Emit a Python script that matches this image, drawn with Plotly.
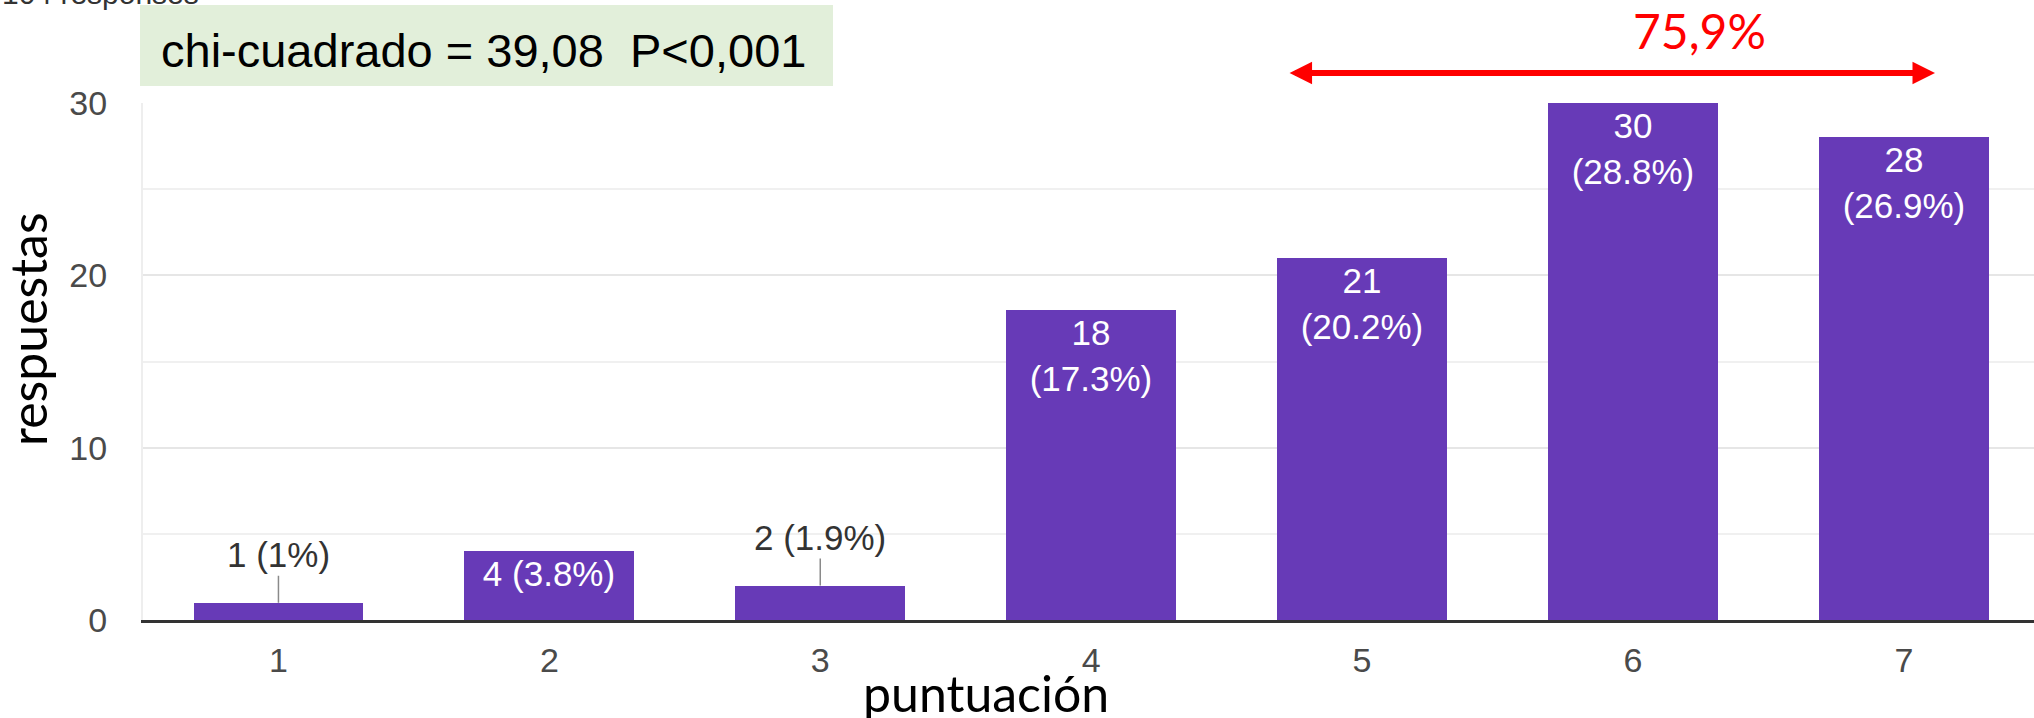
import plotly.graph_objects as go

# ---- data ----
categories = [1, 2, 3, 4, 5, 6, 7]
respuestas = [1, 4, 2, 18, 21, 30, 28]
porcentajes = [1, 3.8, 1.9, 17.3, 20.2, 28.8, 26.9]
y_ticks = [0, 10, 20, 30]
total_label = "104 responses"
chi_text = "chi-cuadrado = 39,08  P<0,001"
bracket_label = "75,9%"
bracket_from, bracket_to = 5, 7  # categories spanned by the red arrow

PURPLE = "#673ab7"
W, H = 2034, 718
L, R, T, B = 143, 0, 103, 98
plot_w = W - L - R
plot_h = H - T - B
x_range = [0.5, 0.5 + plot_w / 270.9]


def px_x(px):
    return (px - L) / plot_w


def px_y(py):
    return (H - B - py) / plot_h


texts, positions = [], []
for v, p in zip(respuestas, porcentajes):
    if v >= 10:
        texts.append(f"{v}<br>({p:g}%)")
        positions.append("inside")
    elif v >= 3:
        texts.append(f"{v} ({p:g}%)")
        positions.append("inside")
    else:
        texts.append("")
        positions.append("none")

fig = go.Figure()
fig.add_trace(go.Bar(
    x=categories, y=respuestas, width=0.627,
    marker=dict(color=PURPLE, line=dict(width=0)),
    text=texts, textposition=positions, insidetextanchor="end",
    textfont=dict(family="Liberation Sans, Arial", size=35, color="white"),
    hoverinfo="skip", showlegend=False,
))

annotations = []
# outside labels for small bars, with leader lines
for c, v, p, t in zip(categories, respuestas, porcentajes, texts):
    if t == "":
        annotations.append(dict(
            x=c, y=v, xref="x", yref="y", text=f"{v} ({p:g}%)",
            showarrow=True, arrowhead=0, arrowwidth=1.5, arrowcolor="#8a8a8a",
            ax=0, ay=-48, standoff=0,
            font=dict(family="Liberation Sans, Arial", size=35, color="#333333"),
        ))

# red double arrow above bars 5-7
annotations.append(dict(
    x=bracket_to + 0.115, y=px_y(73), xref="x", yref="paper",
    ax=bracket_from - 0.273, ay=0, axref="x", ayref="pixel",
    text=" ", showarrow=True, arrowhead=2, arrowside="end+start",
    arrowwidth=6, arrowsize=0.75, arrowcolor="#ff0000", standoff=0, startstandoff=0,
    font=dict(size=1),
))
annotations.append(dict(
    x=px_x(1699), y=px_y(30), xref="paper", yref="paper", text=bracket_label,
    showarrow=False, xanchor="center", yanchor="middle",
    font=dict(family="Lato", size=48, color="#ff0000"),
))
# chi-square box text
annotations.append(dict(
    x=px_x(483), y=px_y(51), xref="paper", yref="paper", text=chi_text,
    showarrow=False, xanchor="center", yanchor="middle",
    font=dict(family="Liberation Sans", size=47, color="#000000"),
))
# cut-off "104 responses"
annotations.append(dict(
    x=px_x(0), y=px_y(12), xref="paper", yref="paper", text=total_label,
    showarrow=False, xanchor="left", yanchor="bottom",
    font=dict(family="Liberation Sans, Arial", size=30, color="#333333"),
))
# axis titles
annotations.append(dict(
    x=px_x(986), y=px_y(693), xref="paper", yref="paper", text="puntuación",
    showarrow=False, xanchor="center", yanchor="middle",
    font=dict(family="Lato", size=50, color="#000000"),
))
annotations.append(dict(
    x=px_x(28), y=px_y(329), xref="paper", yref="paper", text="respuestas",
    showarrow=False, xanchor="center", yanchor="middle", textangle=-90,
    font=dict(family="Lato", size=50, color="#000000"),
))

shapes = [dict(
    type="rect", xref="paper", yref="paper",
    x0=px_x(140), x1=px_x(833), y0=px_y(86), y1=px_y(5),
    fillcolor="#e2efda", line=dict(width=0), layer="below",
)]

fig.update_layout(
    width=W, height=H, autosize=False,
    margin=dict(l=L, r=R, t=T, b=B),
    paper_bgcolor="white", plot_bgcolor="white",
    annotations=annotations, shapes=shapes,
    bargap=0,
    xaxis=dict(
        range=x_range, tickmode="array", tickvals=categories,
        ticktext=[str(c) for c in categories],
        showgrid=False, zeroline=False,
        showline=True, linecolor="#333333", linewidth=3,
        ticks="", ticklabelstandoff=8,
        tickfont=dict(family="Liberation Sans, Arial", size=34, color="#4a4a4a"),
    ),
    yaxis=dict(
        range=[0, 30], tickmode="array", tickvals=y_ticks,
        showgrid=True, gridcolor="#e6e6e6", gridwidth=2,
        minor=dict(dtick=5, tick0=0, showgrid=True, gridcolor="#f0f0f0", gridwidth=2),
        zeroline=False, showline=True, linecolor="#eeeeee", linewidth=2,
        ticks="", ticklabelstandoff=27,
        tickfont=dict(family="Liberation Sans, Arial", size=34, color="#4a4a4a"),
    ),
)

fig.write_html("out.html", config={"displayModeBar": False},
               post_script="document.body.style.margin='0';")
